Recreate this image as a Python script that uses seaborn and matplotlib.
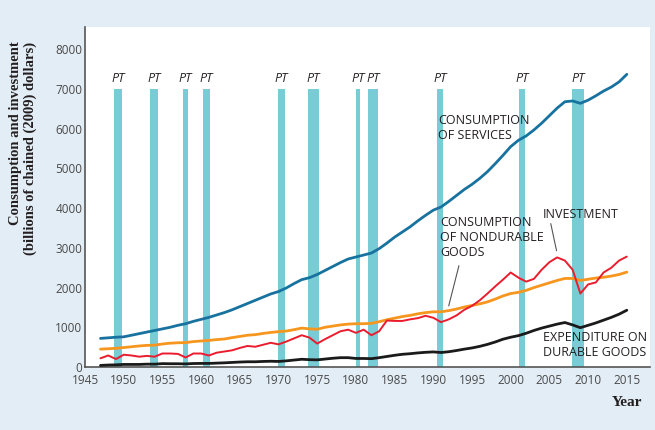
import matplotlib

matplotlib.use("Agg")
import matplotlib.pyplot as plt
import numpy as np
import pandas as pd
import seaborn as sns

# ---- veri (grafikten okunan yaklasik degerler, milyar 2009 dolari) ----
yillar = list(range(1947, 2016))

hizmet = [720, 735, 750, 760, 800, 840, 880, 920, 960, 1000,
          1050, 1090, 1150, 1200, 1250, 1310, 1370, 1440, 1520, 1600,
          1680, 1760, 1840, 1900, 1990, 2100, 2200, 2250, 2330, 2430,
          2530, 2630, 2720, 2770, 2820, 2870, 2980, 3120, 3270, 3400,
          3530, 3680, 3820, 3950, 4030, 4170, 4320, 4470, 4600, 4750,
          4920, 5120, 5330, 5550, 5710, 5820, 5970, 6140, 6330, 6520,
          6680, 6700, 6640, 6720, 6830, 6950, 7050, 7180, 7370]

dayaniksiz = [450, 460, 470, 490, 510, 530, 545, 550, 580, 600,
              610, 615, 640, 655, 670, 690, 705, 740, 770, 800,
              815, 845, 870, 890, 905, 940, 980, 960, 950, 1000,
              1030, 1060, 1080, 1090, 1090, 1100, 1140, 1190, 1230, 1270,
              1300, 1340, 1370, 1390, 1390, 1420, 1460, 1510, 1550, 1590,
              1640, 1710, 1790, 1850, 1880, 1930, 2000, 2060, 2120, 2180,
              2230, 2230, 2180, 2210, 2240, 2260, 2290, 2330, 2390]

yatirim = [220, 290, 200, 310, 290, 260, 280, 260, 340, 340,
           330, 240, 340, 340, 290, 360, 390, 420, 480, 530,
           510, 560, 610, 570, 640, 720, 800, 740, 590, 700,
           800, 900, 940, 860, 940, 800, 900, 1170, 1160, 1160,
           1200, 1230, 1290, 1240, 1130, 1200, 1300, 1440, 1540, 1680,
           1850, 2030, 2200, 2380, 2250, 2150, 2220, 2450, 2640, 2760,
           2680, 2450, 1850, 2080, 2130, 2380, 2500, 2680, 2780]

dayanikli = [40, 50, 55, 65, 65, 65, 72, 72, 85, 82,
             82, 78, 88, 90, 90, 98, 105, 115, 125, 132,
             132, 140, 145, 140, 155, 175, 195, 185, 180, 200,
             220, 235, 235, 215, 215, 210, 235, 265, 295, 320,
             335, 355, 370, 380, 365, 385, 415, 450, 480, 520,
             570, 630, 700, 750, 790, 850, 920, 980, 1030, 1080,
             1120, 1060, 990, 1050, 1110, 1180, 1250, 1330, 1430]

# resesyon donemleri (baslangic, bitis)
resesyon_bas = [1948.8, 1953.4, 1957.6, 1960.2, 1969.9, 1973.8, 1980.0, 1981.5, 1990.5, 2001.1, 2007.9]
resesyon_bit = [1949.8, 1954.4, 1958.3, 1961.2, 1970.9, 1975.2, 1980.5, 1982.9, 1991.2, 2001.9, 2009.5]
resesyon_yukseklik = 7000

x_ticks = list(range(1945, 2020, 5))
y_ticks = list(range(0, 9000, 1000))

ARKA = "#e3edf5"
RENKLER = {"hizmet": "#18729f", "dayaniksiz": "#f7961e",
           "yatirim": "#ea1c2d", "dayanikli": "#1a1a1a"}
YAZI = "#231f20"
GRI = "#4a4a4a"

sns.set_theme(style="white")
plt.rcParams["font.family"] = ["Open Sans", "DejaVu Sans"]

df = pd.DataFrame({"yil": yillar, "hizmet": hizmet, "dayaniksiz": dayaniksiz,
                   "yatirim": yatirim, "dayanikli": dayanikli})

fig = plt.figure(figsize=(6.55, 4.3), dpi=100, facecolor=ARKA)
ax = fig.add_axes([0.1298, 0.1465, 0.8626, 0.7905])
ax.set_facecolor("white")

# resesyon cubuklari
bas = np.array(resesyon_bas)
bit = np.array(resesyon_bit)
ax.bar(bas, [resesyon_yukseklik] * len(bas), width=bit - bas, align="edge",
       color="#78ccd6", edgecolor="none", zorder=1)
for b, e in zip(bas, bit):
    ax.text((b + e) / 2, 7100, "PT", ha="center", va="bottom", fontsize=9,
            fontstyle="italic", color=YAZI)

# seriler
for seri, lw in [("hizmet", 2.0), ("dayaniksiz", 2.0), ("yatirim", 1.4), ("dayanikli", 2.0)]:
    sns.lineplot(data=df, x="yil", y=seri, ax=ax, color=RENKLER[seri], lw=lw, zorder=3)

# etiketler
ax.text(1990.6, 6010, "CONSUMPTION\nOF SERVICES", fontsize=9, color=YAZI,
        va="center", ha="left", linespacing=1.2)
ax.text(1990.9, 3270, "CONSUMPTION\nOF NONDURABLE\nGOODS", fontsize=9, color=YAZI,
        va="center", ha="left", linespacing=1.2)
ax.text(2004.2, 3830, "INVESTMENT", fontsize=9, color=YAZI, va="center", ha="left")
ax.text(2004.2, 550, "EXPENDITURE ON\nDURABLE GOODS", fontsize=9, color=YAZI,
        va="center", ha="left", linespacing=1.2)
ax.annotate("", xy=(1991.9, 1470), xytext=(1993.4, 2620),
            arrowprops=dict(arrowstyle="-", color="#555555", lw=0.8))
ax.annotate("", xy=(2006.0, 2860), xytext=(2005.1, 3680),
            arrowprops=dict(arrowstyle="-", color="#555555", lw=0.8))

# eksenler
ax.set_xlim(1945, 2018)
ax.set_ylim(0, 8560)
ax.set_xticks(x_ticks)
ax.set_yticks(y_ticks)
ax.set_xlabel("")
ax.set_ylabel("")
ax.tick_params(axis="both", direction="in", length=6, width=1, color="#555555",
               labelsize=8.5, labelcolor=GRI, pad=2)
ax.tick_params(axis="x", pad=5)
for s in ["top", "right"]:
    ax.spines[s].set_visible(False)
for s in ["left", "bottom"]:
    ax.spines[s].set_color("#555555")
    ax.spines[s].set_linewidth(1.2)

fig.text(0.035, 0.903, "Consumption and investment\n(billions of chained (2009) dollars)",
         rotation=90, ha="center", va="top", multialignment="right",
         fontsize=10.5, fontweight="bold", family=["Liberation Serif"], color=YAZI,
         linespacing=1.1)
fig.text(0.981, 0.063, "Year", ha="right", va="center", fontsize=11,
         fontweight="bold", family=["Liberation Serif"], color=YAZI)

fig.savefig("out.png", dpi=100, facecolor=ARKA)
